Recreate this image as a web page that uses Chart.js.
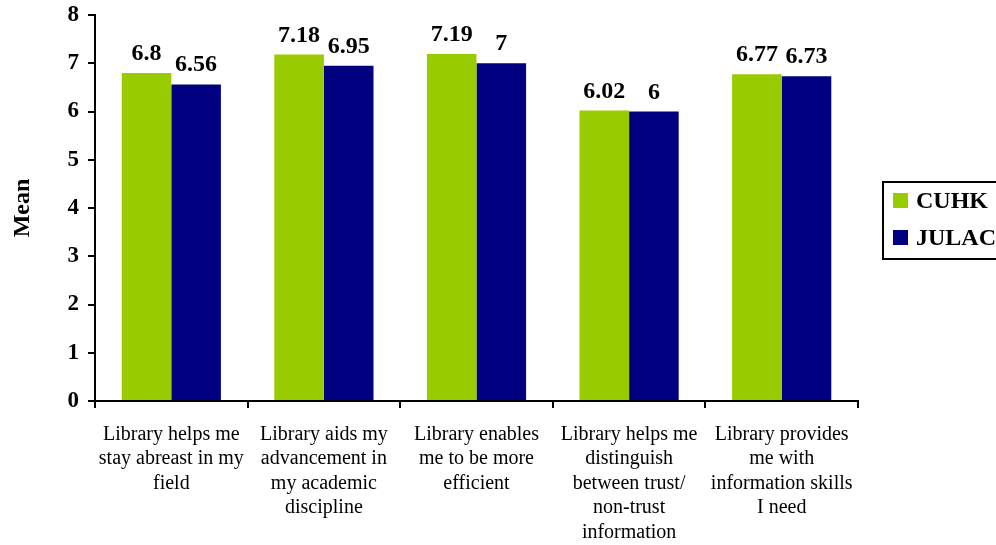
<!DOCTYPE html>
<html>
<head>
<meta charset="utf-8">
<script src="https://cdn.jsdelivr.net/npm/chart.js@4"></script>
<style>
html,body{margin:0;padding:0;background:#fff;}
#wrap{width:996px;height:545px;position:relative;}
</style>
</head>
<body>
<div id="wrap"><canvas id="c" width="996" height="545"></canvas></div>
<script>
const categories = [
  ["Library helps me","stay abreast in my","field"],
  ["Library aids my","advancement in","my academic","discipline"],
  ["Library enables","me to be more","efficient"],
  ["Library helps me","distinguish","between trust/","non-trust","information"],
  ["Library provides","me with","information skills","I need"]
];
const cuhk = [6.8, 7.18, 7.19, 6.02, 6.77];
const julac = [6.56, 6.95, 7, 6, 6.73];
const seriesNames = ["CUHK", "JULAC"];
const yTicks = [0,1,2,3,4,5,6,7,8];

const SERIF = "'Liberation Serif','Times New Roman',serif";

const valueLabels = {
  id: 'valueLabels',
  afterDatasetsDraw(chart) {
    const ctx = chart.ctx;
    ctx.save();
    ctx.font = "bold 24px " + SERIF;
    ctx.fillStyle = "#000";
    ctx.textAlign = "center";
    ctx.textBaseline = "alphabetic";
    chart.data.datasets.forEach((ds, i) => {
      const meta = chart.getDatasetMeta(i);
      meta.data.forEach((bar, j) => {
        ctx.fillText(String(ds.data[j]), bar.x, bar.y - 13);
      });
    });
    ctx.restore();
  }
};

const boxLegend = {
  id: 'boxLegend',
  afterDraw(chart) {
    const ctx = chart.ctx;
    ctx.save();
    ctx.lineWidth = 2;
    ctx.strokeStyle = "#000";
    ctx.strokeRect(883, 182, 130, 77);
    ctx.font = "bold 24px " + SERIF;
    ctx.textAlign = "left";
    ctx.textBaseline = "middle";
    chart.data.datasets.forEach((ds, i) => {
      const y = 200.5 + i * 37;
      ctx.fillStyle = ds.backgroundColor;
      ctx.fillRect(893, y - 7.5, 15, 15);
      ctx.fillStyle = "#000";
      ctx.fillText(ds.label, 916, y + 1);
    });
    ctx.restore();
  }
};

new Chart(document.getElementById('c'), {
  type: 'bar',
  data: {
    labels: categories,
    datasets: [
      { label: seriesNames[0], data: cuhk, backgroundColor: '#99CC00' },
      { label: seriesNames[1], data: julac, backgroundColor: '#000080' }
    ]
  },
  options: {
    responsive: false,
    animation: false,
    devicePixelRatio: 1,
    layout: { padding: { top: 15, right: 138, left: 8, bottom: 0 } },
    datasets: { bar: { barPercentage: 1.0, categoryPercentage: 0.65 } },
    plugins: { legend: { display: false }, tooltip: { enabled: false } },
    scales: {
      x: {
        grid: { offset: true, drawOnChartArea: false, tickLength: 7, color: '#000', lineWidth: 2 },
        border: { color: '#000', width: 2 },
        ticks: {
          color: '#000',
          font: { family: SERIF, size: 20, lineHeight: 1.225 },
          maxRotation: 0, autoSkip: false, padding: 14
        },
        afterFit(s) { s.height = 144; s.paddingLeft = 0; s.paddingRight = 0; }
      },
      y: {
        min: 0, max: 8,
        afterBuildTicks(s) { s.ticks = yTicks.map(v => ({ value: v })); },
        grid: { drawOnChartArea: false, tickLength: 7, color: '#000', lineWidth: 2 },
        border: { color: '#000', width: 2 },
        ticks: {
          color: '#000', padding: 9,
          font: { family: SERIF, size: 23, weight: 'bold' }
        },
        title: {
          display: true, text: 'Mean', color: '#000',
          font: { family: SERIF, size: 24, weight: 'bold' },
          padding: { top: 0, bottom: 0 }
        },
        afterFit(s) { s.width = 87; s.paddingTop = 0; s.paddingBottom = 0; }
      }
    }
  },
  plugins: [valueLabels, boxLegend]
});
</script>
</body>
</html>
